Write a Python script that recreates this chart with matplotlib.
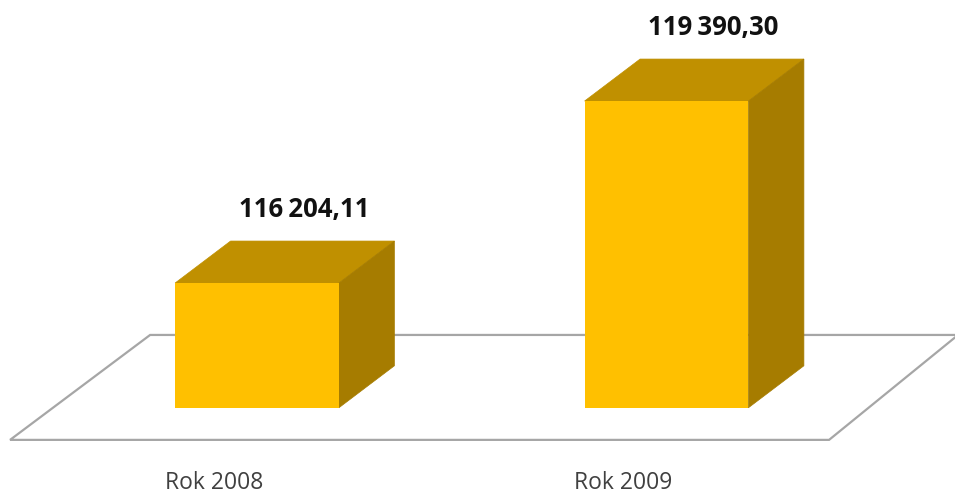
import numpy as np
import matplotlib
matplotlib.use("Agg")
import matplotlib.pyplot as plt
from matplotlib.patches import Polygon

#values and labels
categories = ["Rok 2008", "Rok 2009"]
values = [116204.11, 119390.30]
value_labels = ["116\u2009204,11", "119\u2009390,30"]

plt.rcParams['font.family'] = ['Open Sans', 'DejaVu Sans']

#axis limits fitted so the bars land where they are in the picture
base = 114020
bar_w = 0.40
depth_x = 0.1355
depth_y = 735

fig = plt.figure(figsize=(9.55, 4.93), dpi=100)
ax = fig.add_axes([0, 0, 1, 1])
ax.set_xlim(-0.6276, 1.7045)
ax.set_ylim(112528, 121159)
ax.axis('off')

x = np.arange(len(categories))

#floor of the 3d chart
floor = Polygon([(-0.603, 113458), (-0.261, 115295), (1.712, 115295), (1.397, 113458)],
                closed=True, facecolor='white', edgecolor='#a6a6a6', linewidth=1.6, zorder=1)
ax.add_patch(floor)

ax.bar(x, np.array(values) - base, bottom=base, width=bar_w, color='#FFC000', zorder=4)

for xi, v, lab, cat in zip(x, values, value_labels, categories):
    l = xi - bar_w / 2
    r = xi + bar_w / 2
    top = Polygon([(l, v), (l + depth_x, v + depth_y), (r + depth_x, v + depth_y), (r, v)],
                  closed=True, facecolor='#C09000', edgecolor='#C09000', linewidth=0.5, zorder=2)
    side = Polygon([(r, base), (r + depth_x, base + depth_y), (r + depth_x, v + depth_y), (r, v)],
                   closed=True, facecolor='#A67C00', edgecolor='#A67C00', linewidth=0.5, zorder=3)
    ax.add_patch(top)
    ax.add_patch(side)
    ax.text(xi + 0.1148, v + depth_y + 560, lab, ha='center', va='center',
            fontsize=18.5, fontweight='bold', color='#111111')
    ax.text(xi - 0.105, 112710, cat, ha='center', va='center', fontsize=16.5, color='#404040')

fig.savefig("out.png", dpi=100)
